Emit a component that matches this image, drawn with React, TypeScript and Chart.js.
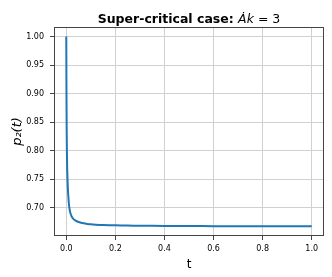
import React, { useEffect, useRef } from "react";
import { Chart, registerables } from "chart.js";

Chart.register(...registerables);

const tValues = [0, 0.0005, 0.001, 0.0015, 0.002, 0.003, 0.004, 0.005, 0.0065, 0.008, 0.01, 0.012, 0.015, 0.018, 0.022, 0.027, 0.033, 0.04, 0.05, 0.06, 0.07, 0.085, 0.1, 0.12, 0.15, 0.2, 0.25, 0.3, 0.4, 0.5, 0.6, 0.7, 0.8, 0.9, 1.0];
const pValues = [1.0, 0.935, 0.885, 0.848, 0.82, 0.785, 0.764, 0.75, 0.733, 0.722, 0.71, 0.701, 0.6935, 0.6885, 0.6843, 0.6810, 0.6785, 0.6765, 0.6745, 0.6732, 0.6722, 0.6712, 0.6705, 0.6699, 0.6693, 0.6687, 0.6683, 0.6680, 0.6677, 0.6675, 0.6673, 0.6672, 0.6671, 0.6670, 0.6669];
const xTicks = [0, 0.2, 0.4, 0.6, 0.8, 1.0];
const yTicks = [0.7, 0.75, 0.8, 0.85, 0.9, 0.95, 1.0];

const FONT = "'DejaVu Sans', sans-serif";

const framePlugin = {
  id: "frame",
  afterDatasetsDraw(chart: any) {
    const { ctx, chartArea } = chart;
    ctx.save();
    ctx.strokeStyle = "#444444";
    ctx.lineWidth = 1;
    ctx.strokeRect(
      Math.round(chartArea.left) + 0.5,
      Math.round(chartArea.top) + 0.5,
      Math.round(chartArea.right - chartArea.left) - 1,
      Math.round(chartArea.bottom - chartArea.top) - 1
    );
    ctx.restore();
  },
};

const titlePlugin = {
  id: "mixedTitle",
  afterDraw(chart: any) {
    const { ctx, chartArea } = chart;
    const parts = [
      { text: "Super-critical case: ", font: `bold 12.5px ${FONT}` },
      { text: "Ȧk", font: `italic 12.5px ${FONT}` },
      { text: " = 3", font: `12.5px ${FONT}` },
    ];
    ctx.save();
    let total = 0;
    const widths = parts.map((p) => {
      ctx.font = p.font;
      const w = ctx.measureText(p.text).width;
      total += w;
      return w;
    });
    let x = (chartArea.left + chartArea.right) / 2 - total / 2;
    ctx.fillStyle = "#000000";
    ctx.textBaseline = "alphabetic";
    ctx.textAlign = "left";
    parts.forEach((p, i) => {
      ctx.font = p.font;
      ctx.fillText(p.text, x, 23);
      x += widths[i];
    });
    ctx.restore();
  },
};

export default function App() {
  const ref = useRef<HTMLCanvasElement | null>(null);
  useEffect(() => {
    if (!ref.current) return;
    const data = tValues.map((t, i) => ({ x: t, y: pValues[i] }));
    const chart = new Chart(ref.current, {
      type: "line",
      data: {
        datasets: [
          {
            data,
            borderColor: "#1f77b4",
            borderWidth: 2,
            pointRadius: 0,
            tension: 0.3,
            fill: false,
          },
        ],
      },
      options: {
        animation: false,
        responsive: false,
        layout: { padding: { left: 6, right: 8, top: 27, bottom: 0 } },
        plugins: {
          legend: { display: false },
          title: { display: false },
          tooltip: { enabled: false },
        },
        scales: {
          x: {
            type: "linear",
            min: -0.05,
            max: 1.05,
            afterBuildTicks: (scale: any) => {
              scale.ticks = xTicks.map((v) => ({ value: v }));
            },
            afterFit: (scale: any) => {
              scale.height = 41;
            },
            ticks: {
              callback: (v: any) => Number(v).toFixed(1),
              font: { family: FONT, size: 8 },
              color: "#000000",
              padding: 4,
              maxRotation: 0,
            },
            grid: {
              color: "#d0d0d0",
              lineWidth: 1,
              drawTicks: true,
              tickLength: 4,
              tickColor: "#444444",
            },
            border: { display: false },
            title: {
              display: true,
              text: "t",
              font: { family: FONT, size: 12 },
              color: "#000000",
              padding: { top: 2, bottom: 5 },
            },
          },
          y: {
            type: "linear",
            min: 0.65,
            max: 1.01667,
            afterBuildTicks: (scale: any) => {
              scale.ticks = yTicks.map((v) => ({ value: v }));
            },
            afterFit: (scale: any) => {
              scale.width = 48;
            },
            ticks: {
              callback: (v: any) => Number(v).toFixed(2),
              font: { family: FONT, size: 8 },
              color: "#000000",
              padding: 6,
            },
            grid: {
              color: "#d0d0d0",
              lineWidth: 1,
              drawTicks: true,
              tickLength: 4,
              tickColor: "#444444",
            },
            border: { display: false },
            title: {
              display: true,
              text: "p₂(t)",
              font: { family: FONT, size: 13, style: "italic" },
              color: "#000000",
              padding: { top: 4, bottom: 4 },
            },
          },
        },
      },
      plugins: [framePlugin, titlePlugin],
    } as any);
    return () => chart.destroy();
  }, []);
  return (
    <div style={{ position: "absolute", left: 0, top: 0, width: 332, height: 277, background: "#ffffff" }}>
      <canvas ref={ref} width={332} height={277} style={{ display: "block" }} />
    </div>
  );
}
